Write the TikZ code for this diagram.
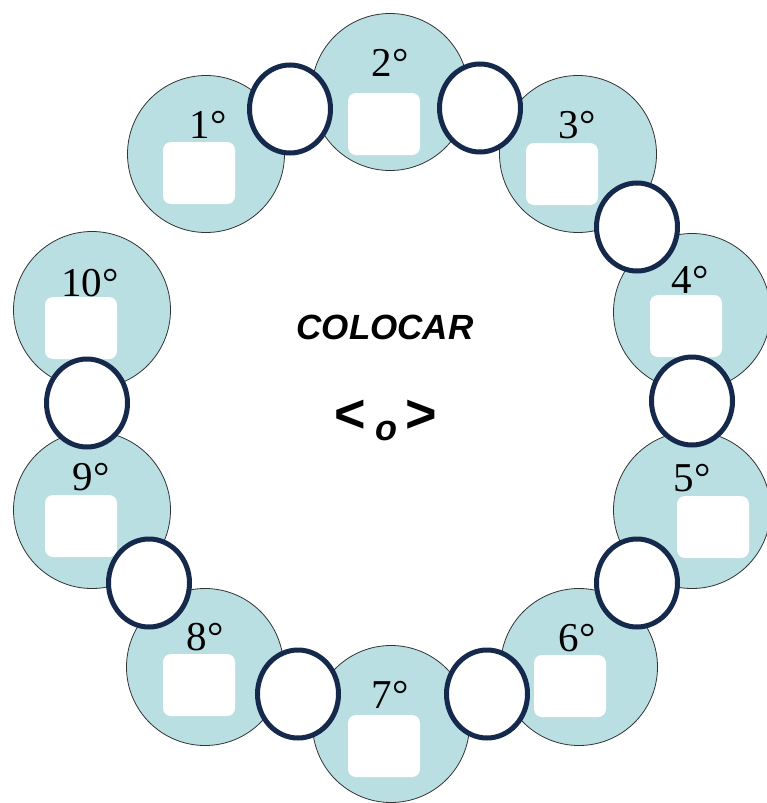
\documentclass[tikz,border=0pt]{standalone}
\usepackage{fontspec}
\setmainfont{Liberation Serif}
\setsansfont{Liberation Sans}
\usetikzlibrary{shapes.geometric}
\definecolor{seatblue}{HTML}{B9DFE3}
\definecolor{ringnavy}{HTML}{14294B}

\begin{document}
\begin{tikzpicture}[x=1pt,y=-1pt]
	\tikzset{seat/.style={circle, draw=black!80, line width=0.8pt, fill=seatblue, minimum size=157pt, inner sep=0pt},
		slot/.style={rectangle, rounded corners=8pt, fill=white, minimum width=72pt, minimum height=62pt, inner sep=0pt},
		num/.style={font=\fontsize{41}{41}\selectfont, inner sep=0pt},
		link/.style={ellipse, draw=ringnavy, line width=5pt, fill=white, minimum width=81pt, minimum height=88pt, inner sep=0pt}}
	\useasboundingbox (0,0) rectangle (766,803);

	% seats round the ring
	\node[seat] (c1) at (206,154) {};
	\node[seat] (c2) at (390,92) {};
	\node[seat] (c3) at (578,154) {};
	\node[seat] (c4) at (692,312) {};
	\node[seat] (c5) at (692,510) {};
	\node[seat] (c6) at (579,667) {};
	\node[seat] (c7) at (391,724) {};
	\node[seat] (c8) at (205,667) {};
	\node[seat] (c9) at (92,510) {};
	\node[seat] (c10) at (92,310) {};

	\node[slot] (s1) at (199,173) {};
	\node[slot] (s2) at (384,124) {};
	\node[slot] (s3) at (562,174) {};
	\node[slot] (s4) at (686,326) {};
	\node[slot] (s5) at (713,527) {};
	\node[slot] (s6) at (570,686) {};
	\node[slot] (s7) at (384,746) {};
	\node[slot] (s8) at (199,685) {};
	\node[slot] (s9) at (81,526) {};
	\node[slot] (s10) at (81,328) {};

	\node[num] (n1) at (208,125) {1°};
	\node[num] (n2) at (390,63) {2°};
	\node[num] (n3) at (577,125) {3°};
	\node[num] (n4) at (690,280) {4°};
	\node[num] (n5) at (692,478) {5°};
	\node[num] (n6) at (577,638) {6°};
	\node[num] (n7) at (390,695) {7°};
	\node[num] (n8) at (205,637) {8°};
	\node[num] (n9) at (91,477) {9°};
	\node[num] (n10) at (90,283) {10°};

	% links between seats
	\node[link] (k12) at (290,109) {};
	\node[link] (k23) at (480,108) {};
	\node[link] (k34) at (637,227) {};
	\node[link] (k45) at (692,401) {};
	\node[link] (k56) at (637,583) {};
	\node[link] (k67) at (487,694) {};
	\node[link] (k78) at (298,694) {};
	\node[link] (k89) at (149,583) {};
	\node[link] (k910) at (87,403) {};

	\node[font=\sffamily\bfseries\itshape\fontsize{35}{35}\selectfont, inner sep=0pt] (title) at (385,327) {COLOCAR};
	\node[font=\sffamily\bfseries\fontsize{54}{54}\selectfont, inner sep=0pt] (sign) at (386,420) {<\kern9pt\raisebox{-8pt}{\fontsize{36}{36}\selectfont\itshape o}\kern9pt>};
\end{tikzpicture}
\end{document}
